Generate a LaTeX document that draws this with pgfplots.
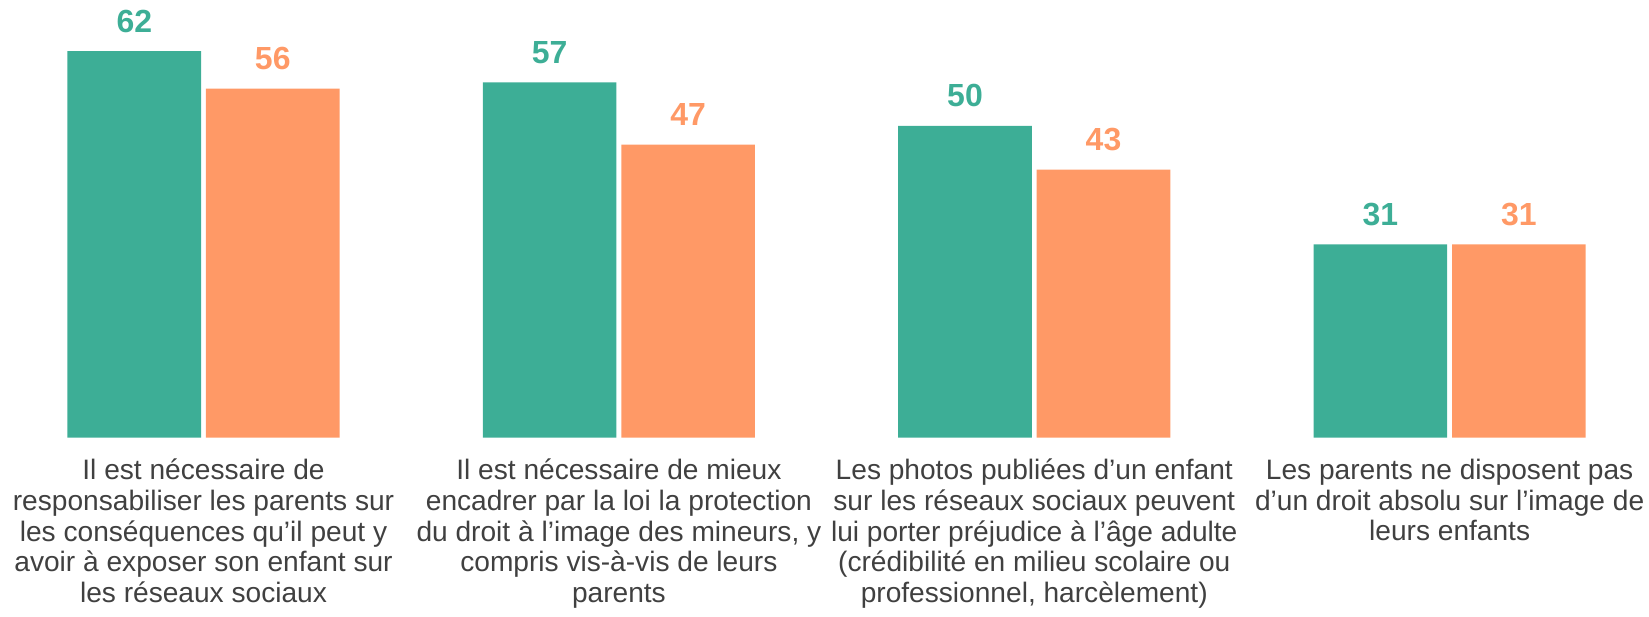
\documentclass[border=0pt]{standalone}
\usepackage{pgfplots}
\pgfplotsset{compat=1.18}
\usepackage{fontspec}
\setmainfont{Liberation Sans}
\definecolor{vert}{HTML}{3DAE96}
\definecolor{orange}{HTML}{FF9966}
\definecolor{gristexte}{HTML}{404040}

\begin{document}
\begin{tikzpicture}
\begin{axis}[
    ybar,
    width=16.49cm,
    height=4.375cm,
    scale only axis,
    xmin=-0.49, xmax=3.48,
    ymin=0, ymax=70.2,
    bar width=0.3216,
    axis line style={draw=none},
    tick style={draw=none},
    major tick length=0pt,
    ytick=\empty,
    xtick={0,1,2,3},
    xticklabels={
      {Il est nécessaire de\\responsabiliser les parents sur\\les conséquences qu’il peut y\\avoir à exposer son enfant sur\\les réseaux sociaux},
      {Il est nécessaire de mieux\\encadrer par la loi la protection\\du droit à l’image des mineurs, y\\compris vis-à-vis de leurs\\parents},
      {Les photos publiées d’un enfant\\sur les réseaux sociaux peuvent\\lui porter préjudice à l’âge adulte\\(crédibilité en milieu scolaire ou\\professionnel, harcèlement)},
      {Les parents ne disposent pas\\d’un droit absolu sur l’image de\\leurs enfants}},
    xticklabel style={align=center, anchor=north, inner sep=0pt, yshift=-2.1mm,
      text=gristexte, font=\fontsize{8}{8.7}\selectfont},
    /pgf/number format/assume math mode=true,
    nodes near coords={\pgfmathprintnumber{\pgfplotspointmeta}},
    nodes near coords style={anchor=south, inner sep=0pt, yshift=1.8mm,
      font=\fontsize{9.1}{10}\selectfont\bfseries},
    clip=false,
]
\addplot[fill=vert, draw=none, bar shift=-0.1667,
  nodes near coords style={text=vert}]
  coordinates {(0,62) (1,57) (2,50) (3,31)};
\addplot[fill=orange, draw=none, bar shift=0.1667,
  nodes near coords style={text=orange}]
  coordinates {(0,56) (1,47) (2,43) (3,31)};
\end{axis}
\path (current bounding box.south) ++(0,-0.8mm);
\end{tikzpicture}
\end{document}
